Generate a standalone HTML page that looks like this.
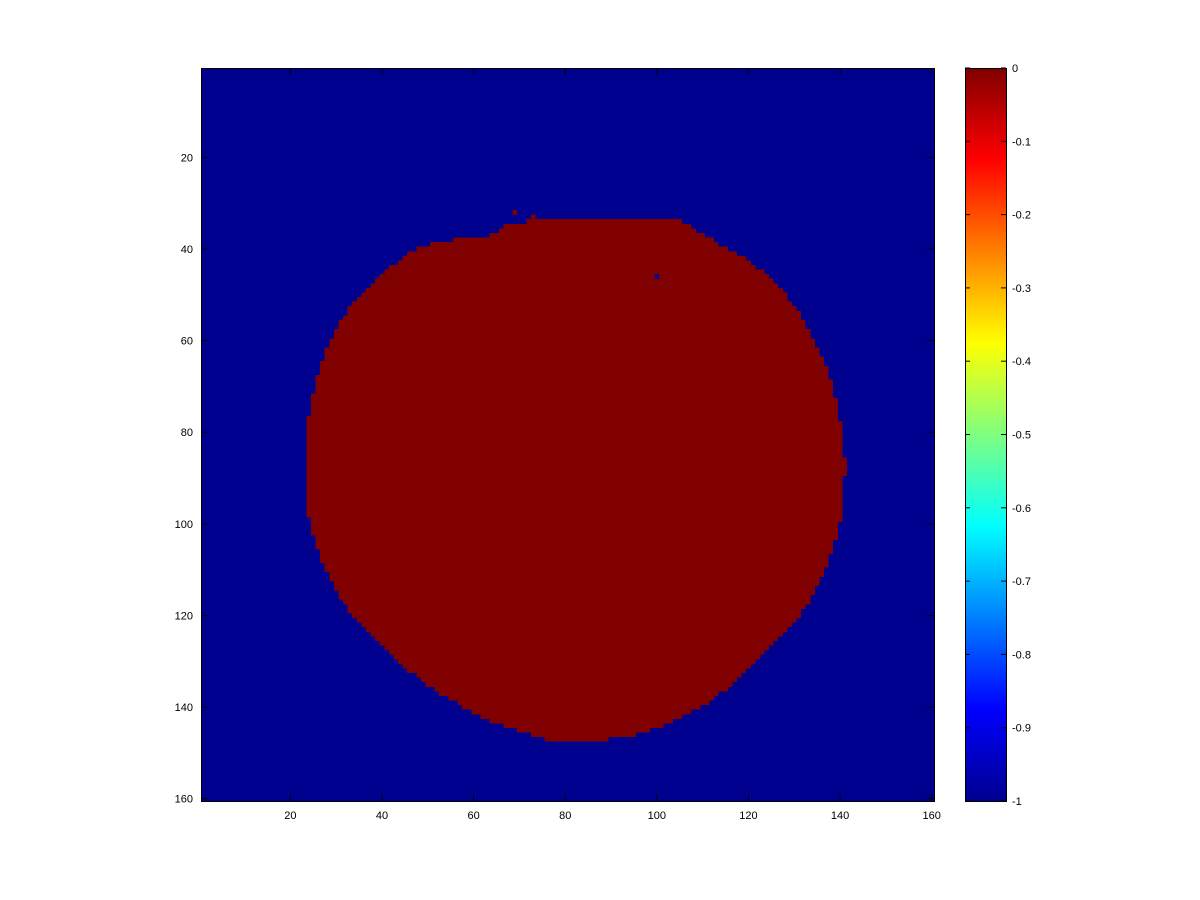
<!DOCTYPE html>
<html><head><meta charset="utf-8"><style>
body{margin:0;background:#fff;}
svg{display:block;font-family:"Liberation Sans",sans-serif;}
</style></head><body>
<svg id="chart" width="1200" height="900">
<rect width="1200" height="900" fill="#fff"/>
<g id="plot"></g>
<g id="axes"></g>
<g id="cbar"></g>
</svg>
<script>
// grid size and value range
const gridSize = 160;
const xTicks = [20,40,60,80,100,120,140,160];
const yTicks = [20,40,60,80,100,120,140,160];
const cbarTicks = [0,-0.1,-0.2,-0.3,-0.4,-0.5,-0.6,-0.7,-0.8,-0.9,-1];
const cbarTickLabels = ["0","-0.1","-0.2","-0.3","-0.4","-0.5","-0.6","-0.7","-0.8","-0.9","-1"];
// region with value 0: per-row first/last columns
const rowIndex = [32,33,34,35,36,37,38,39,40,41,42,43,44,45,46,47,48,49,50,51,52,53,54,55,56,57,58,59,60,61,62,63,64,65,66,67,68,69,70,71,72,73,74,75,76,77,78,79,80,81,82,83,84,85,86,87,88,89,90,91,92,93,94,95,96,97,98,99,100,101,102,103,104,105,106,107,108,109,110,111,112,113,114,115,116,117,118,119,120,121,122,123,124,125,126,127,128,129,130,131,132,133,134,135,136,137,138,139,140,141,142,143,144,145,146,147];
const rowStart = [69,73,72,67,66,64,56,51,48,46,45,44,42,41,40,39,38,37,36,35,34,33,33,32,31,31,30,30,29,29,28,28,28,27,27,27,26,26,26,26,25,25,25,25,25,24,24,24,24,24,24,24,24,24,24,24,24,24,24,24,24,24,24,24,24,24,24,25,25,25,25,26,26,26,27,27,27,28,28,29,29,30,30,31,31,32,33,33,34,35,36,37,38,39,40,41,42,43,44,45,46,48,49,50,52,53,55,57,58,60,62,64,67,70,73,76];
const rowEnd = [69,73,105,107,108,110,112,113,115,117,119,120,121,123,124,125,126,127,128,128,129,130,131,131,132,132,133,133,134,134,135,135,136,136,137,137,137,138,138,138,138,139,139,139,139,139,140,140,140,140,140,140,140,140,141,141,141,141,140,140,140,140,140,140,140,140,140,140,139,139,139,139,138,138,138,137,137,137,136,136,135,135,134,134,133,133,132,131,131,130,129,128,127,126,125,124,123,122,121,120,119,118,117,116,115,113,112,111,109,107,105,103,101,98,95,89];
const holeCells = [[46,100]]; // [row, col] value -1 inside region

const NS="http://www.w3.org/2000/svg";
const L=201,T=68,W=733,H=733;
const cw=W/gridSize, ch=H/gridSize;
const xs=c=>L+(c-1)*cw, ys=r=>T+(r-1)*ch;
function mk(tag,attrs,parent){const e=document.createElementNS(NS,tag);for(const k in attrs)e.setAttribute(k,attrs[k]);parent.appendChild(e);return e;}
const plot=document.getElementById('plot'),axes=document.getElementById('axes'),cbar=document.getElementById('cbar');
const bg=mk('rect',{x:L,y:T,width:W,height:H,fill:'#00008F'},plot);


rowIndex.forEach((r,i)=>{
  const x0=xs(rowStart[i]), x1=xs(rowEnd[i]+1);
  const rc=mk('rect',{x:x0,y:ys(r),width:x1-x0,height:ch+0.3,fill:'#800000','shape-rendering':'crispEdges'},plot);
  
  
});
holeCells.forEach(([r,c])=>{
  const hc=mk('rect',{x:xs(c),y:ys(r),width:cw,height:ch,fill:'#00008F'},plot);
  
  
});
const frame=mk('rect',{x:L+0.5,y:T+0.5,width:W,height:H,fill:'none',stroke:'#000','stroke-width':1},axes);


xTicks.forEach(v=>{
  const x=xs(v)+cw/2;
  mk('line',{x1:x,y1:T+H,x2:x,y2:T+H-7,stroke:'#000'},axes);
  mk('line',{x1:x,y1:T,x2:x,y2:T+7,stroke:'#000'},axes);
  const t=mk('text',{x:x,y:T+H+18,'font-size':11,'text-anchor':'middle'},axes);t.textContent=v;
  
  
});
yTicks.forEach(v=>{
  const y=ys(v)+ch/2;
  mk('line',{x1:L,y1:y,x2:L+7,y2:y,stroke:'#000'},axes);
  mk('line',{x1:L+W,y1:y,x2:L+W-7,y2:y,stroke:'#000'},axes);
  const t=mk('text',{x:L-8,y:y+4,'font-size':11,'text-anchor':'end'},axes);t.textContent=v;
  
  
});
// colorbar
const CL=965,CW=41;
const defs=mk('defs',{},cbar);
const g=mk('linearGradient',{id:'jet',x1:0,y1:1,x2:0,y2:0},defs);
[[0,'#00008F'],[0.125,'#0000FF'],[0.375,'#00FFFF'],[0.625,'#FFFF00'],[0.875,'#FF0000'],[1,'#800000']].forEach(([o,c])=>mk('stop',{offset:o,'stop-color':c},g));
const cb=mk('rect',{x:CL,y:T,width:CW,height:H,fill:'url(#jet)'},cbar);


mk('rect',{x:CL+0.5,y:T+0.5,width:CW,height:H,fill:'none',stroke:'#000'},cbar);
const cy=v=>T+(0-v)*H;
cbarTicks.forEach((v,i)=>{
  const y=cy(v);
  mk('line',{x1:CL,y1:y,x2:CL+5,y2:y,stroke:'#000'},cbar);
  mk('line',{x1:CL+CW,y1:y,x2:CL+CW-5,y2:y,stroke:'#000'},cbar);
  const t=mk('text',{x:CL+CW+6,y:y+4,'font-size':11},cbar);t.textContent=cbarTickLabels[i];
  
  
});
</script>
</body></html>
